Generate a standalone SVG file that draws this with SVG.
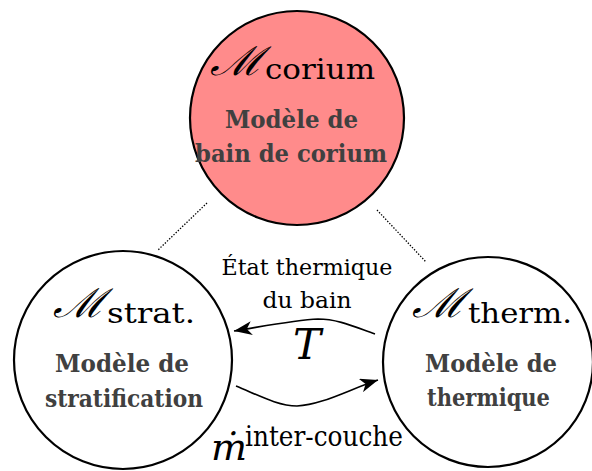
<svg xmlns="http://www.w3.org/2000/svg" width="592" height="471" viewBox="0 0 592 471">
<style>
.node{stroke:#000;stroke-width:2.2}
.cal{font-family:'DejaVu Serif',serif;font-style:italic;font-size:40px;fill:#000}
.sub{font-family:'DejaVu Serif',serif;font-size:28px;fill:#000}
.lbl{font-family:'DejaVu Serif',serif;font-weight:bold;font-size:25px;fill:#404040}
.edge{fill:none;stroke:#000;stroke-width:1.6}
.dot{fill:none;stroke:#000;stroke-width:1.3;stroke-dasharray:1.4 1.6}
.txt{font-family:'DejaVu Serif',serif;font-size:23px;fill:#000}
.it{font-family:'DejaVu Serif',serif;font-style:italic;fill:#000}
</style>
<defs>
<marker id="ah" markerUnits="userSpaceOnUse" markerWidth="20" markerHeight="14" viewBox="0 0 20 14" refX="18" refY="7" orient="auto">
<path d="M0,0 L18,7 L0,14 L5,7 z" fill="#000"/>
</marker>
</defs>
<rect width="592" height="471" fill="#fff"/>
<g id="connectors">
<line class="dot" x1="207" y1="203" x2="158" y2="250"/>
<line class="dot" x1="377" y1="210" x2="426" y2="262"/>
<path class="edge" d="M375,334 C355,327 338,319 318,319 C295,320 265,326 234,331" marker-end="url(#ah)"/>
<path class="edge" d="M236,386 C258,395 278,406 297,406 C322,405 350,389 378,380" marker-end="url(#ah)"/>
<text class="txt" x="307" y="275" text-anchor="middle" textLength="171" lengthAdjust="spacingAndGlyphs">État thermique</text>
<text class="txt" x="307" y="308" text-anchor="middle" textLength="89" lengthAdjust="spacingAndGlyphs">du bain</text>
<text class="it" x="307" y="359" text-anchor="middle" font-size="42">T</text>
<text class="it" x="211" y="460" font-size="38">ṁ</text>
<text class="sub" x="245" y="446" textLength="158" lengthAdjust="spacingAndGlyphs">inter-couche</text>
</g>
<g id="corium">
<circle class="node" cx="297" cy="118" r="107" fill="#ff8b8b"/>
<text class="cal" x="210" y="75" textLength="53" lengthAdjust="spacingAndGlyphs">ℳ</text>
<text class="sub" x="265" y="79" textLength="110" lengthAdjust="spacingAndGlyphs">corium</text>
<text class="lbl" x="225" y="128" textLength="133" lengthAdjust="spacingAndGlyphs">Modèle de</text>
<text class="lbl" x="195" y="162" textLength="192" lengthAdjust="spacingAndGlyphs">bain de corium</text>
</g>
<g id="strat">
<circle class="node" cx="123" cy="360" r="109" fill="#fff"/>
<text class="cal" x="53" y="317" textLength="52" lengthAdjust="spacingAndGlyphs">ℳ</text>
<text class="sub" x="107" y="323" textLength="88" lengthAdjust="spacingAndGlyphs">strat.</text>
<text class="lbl" x="55" y="372" textLength="134" lengthAdjust="spacingAndGlyphs">Modèle de</text>
<text class="lbl" x="45" y="407" textLength="158" lengthAdjust="spacingAndGlyphs">stratification</text>
</g>
<g id="therm">
<circle class="node" cx="488" cy="362" r="105" fill="#fff"/>
<text class="cal" x="412" y="317" textLength="53" lengthAdjust="spacingAndGlyphs">ℳ</text>
<text class="sub" x="468" y="323" textLength="104" lengthAdjust="spacingAndGlyphs">therm.</text>
<text class="lbl" x="425" y="372" textLength="132" lengthAdjust="spacingAndGlyphs">Modèle de</text>
<text class="lbl" x="427" y="406" textLength="123" lengthAdjust="spacingAndGlyphs">thermique</text>
</g>
</svg>
